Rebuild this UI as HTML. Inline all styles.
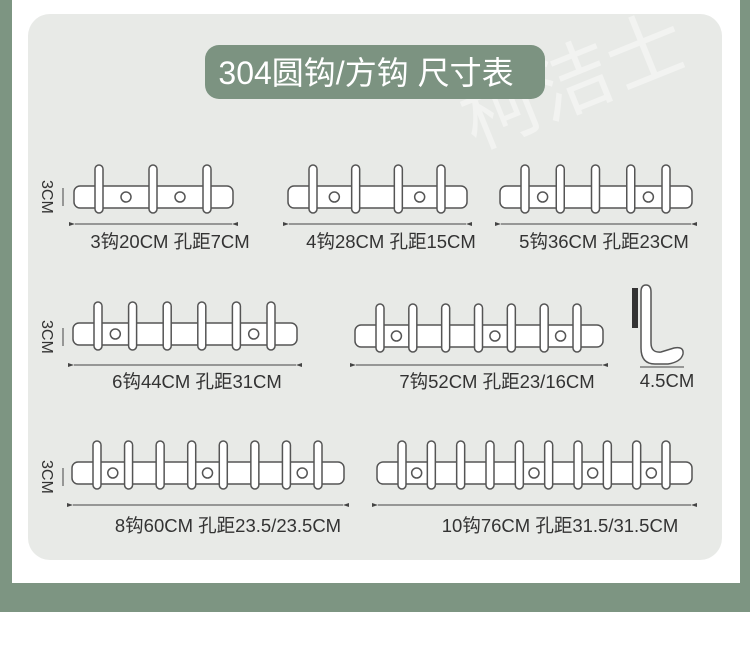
<!DOCTYPE html>
<html><head><meta charset="utf-8"><style>
body{margin:0;width:750px;height:645px;background:#fff;overflow:hidden;font-family:"Liberation Sans","Noto Sans CJK SC",sans-serif}
</style></head><body>
<svg id="s" width="750" height="645" xmlns="http://www.w3.org/2000/svg" style="position:absolute;left:0;top:0">
<defs><marker id="ar" markerWidth="6" markerHeight="6" refX="0" refY="3" orient="auto-start-reverse" markerUnits="userSpaceOnUse"><path d="M0 3 L6 1 L6 5 Z" fill="#444"/></marker></defs>
<rect x="0" y="0" width="750" height="645" fill="#fff"/>
<rect x="0" y="0" width="12" height="612" fill="#7d9582"/>
<rect x="740" y="0" width="10" height="612" fill="#7d9582"/>
<rect x="0" y="583" width="750" height="29" fill="#7d9582"/>
<rect x="28" y="14" width="694" height="546" rx="22" fill="#e8eae7"/>
<text x="475" y="150" font-size="78" fill="#f2f3f1" transform="rotate(-22 475 150)">柯洁士</text>
<rect x="205" y="45" width="340" height="54" rx="14" fill="#7c9381"/>
<text x="366" y="84" font-size="32" fill="#fff" text-anchor="middle">304圆钩/方钩 尺寸表</text>
<g id="g" fill="#fff" stroke="#555" stroke-width="1.5"></g>
<g id="t" font-size="18.5" fill="#333" text-anchor="middle"></g>
<rect x="632" y="288" width="6" height="40" fill="#333"/>
<path d="M641 292 Q641 285 646 285 Q651 285 651 292 L651 343 Q651 353 661 352 L674 348 Q684 346 683 354 Q681 362 668 364 L655 364 Q641 364 641 348 Z" fill="#fff" stroke="#555" stroke-width="1.5"/>
<line x1="640" y1="367" x2="684" y2="367" stroke="#444" stroke-width="1"/>
<text x="667" y="387" font-size="18.5" fill="#333" text-anchor="middle">4.5CM</text>
</svg>
<script>
var g=document.getElementById('g'),t=document.getElementById('t'),NS='http://www.w3.org/2000/svg';
function el(p,tag,a,txt){var e=document.createElementNS(NS,tag);for(var k in a)e.setAttribute(k,a[k]);if(txt)e.textContent=txt;p.appendChild(e);return e;}
function hook(x,w,y,n,holes,dy,lab,ly,lx){
 el(g,'rect',{x:x,y:y,width:w,height:22,rx:6});
 var a=x+25,b=x+w-26,s=(b-a)/(n-1);
 holes.forEach(function(h){el(g,'circle',{cx:a+s*(h+0.5),cy:y+11,r:5});});
 for(var i=0;i<n;i++)el(g,'rect',{x:a+s*i-4,y:y-21,width:8,height:48,rx:4});
 el(g,'line',{x1:x+1,y1:dy,x2:x+w-1,y2:dy,stroke:'#444','stroke-width':1,'marker-start':'url(#ar)','marker-end':'url(#ar)'});
 el(t,'text',{x:lx,y:ly},lab);
}
hook(74,159,186,3,[0,1],224,'3钩20CM 孔距7CM',248,170);
hook(288,179,186,4,[0,2],224,'4钩28CM 孔距15CM',248,391);
hook(500,192,186,5,[0,3],224,'5钩36CM 孔距23CM',248,604);
hook(73,224,323,6,[0,4],365,'6钩44CM 孔距31CM',388,197);
hook(355,248,325,7,[0,3,5],365,'7钩52CM 孔距23/16CM',388,497);
hook(72,272,462,8,[0,3,6],505,'8钩60CM 孔距23.5/23.5CM',532,228);
hook(377,315,462,10,[0,4,6,8],505,'10钩76CM 孔距31.5/31.5CM',532,560);
[[42,180],[42,320],[42,460]].forEach(function(p){
 el(t,'text',{x:p[0],y:p[1],transform:'rotate(90 '+p[0]+' '+p[1]+')','font-size':16,'text-anchor':'start'},'3CM');
 el(g,'line',{x1:p[0]+21,y1:p[1]+8,x2:p[0]+21,y2:p[1]+26,stroke:'#444','stroke-width':1});
});
</script>
</body></html>
